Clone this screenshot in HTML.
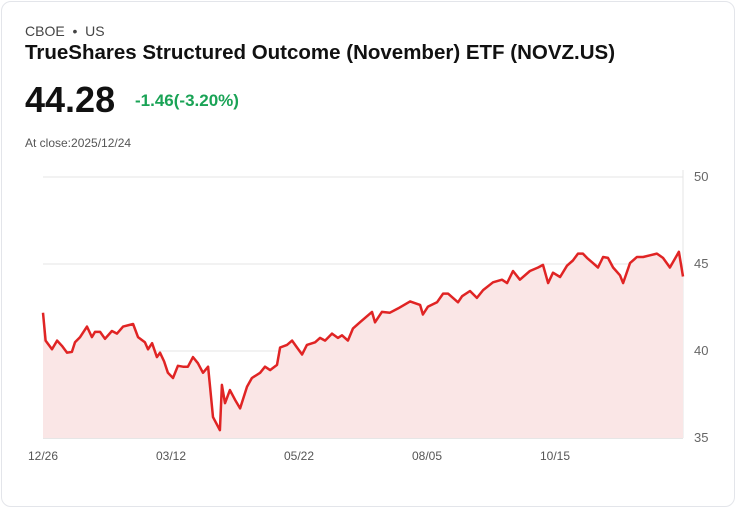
<!DOCTYPE html>
<html><head><meta charset="utf-8"><style>
body{margin:0;background:#fff;font-family:"Liberation Sans",sans-serif;}
.card{position:absolute;left:1px;top:1px;width:732px;height:504px;border:1px solid #e3e5ea;border-radius:10px;background:#fff;}
.ex{position:absolute;left:25px;top:23px;font-size:14px;color:#444;}
.title{position:absolute;left:25px;top:41px;font-size:20.5px;font-weight:bold;color:#111;}
.price{position:absolute;left:25px;top:79px;font-size:36px;font-weight:bold;color:#111;}
.chg{position:absolute;left:135px;top:91px;font-size:17px;font-weight:bold;color:#1aa356;}
.close{position:absolute;left:25px;top:136px;font-size:12px;color:#555;}
svg{position:absolute;left:0;top:0;}
</style></head><body>
<div class="card"></div>
<div class="ex">CBOE &nbsp;•&nbsp; US</div>
<div class="title">TrueShares Structured Outcome (November) ETF (NOVZ.US)</div>
<div class="price">44.28</div>
<div class="chg">-1.46(-3.20%)</div>
<div class="close">At close:2025/12/24</div>
<svg id="c" width="736" height="508"></svg>
<script>
const days=[0,1,3.5,5.5,7.4,9.4,11.3,12.5,14.5,17.2,19.1,20.3,22.3,24.2,26.9,28.9,31.3,35.2,37.1,39.8,41,42.6,44.5,45.7,47.3,48.8,50.8,52.7,54.7,56.6,58.6,60.5,62.5,64.5,66.4,69.1,69.9,71.1,73,75,77,79.7,81.6,84.8,86.7,88.7,91.4,92.6,95.3,97.3,99.2,101.2,103.1,106.3,108.2,110.2,112.9,115.2,116.8,119.1,121.1,123.8,125.8,128.5,129.7,132.4,135.5,138.7,143.4,147.3,148.4,150.4,153.9,156.3,158.2,162.1,163.7,166.8,169.5,171.9,175.8,179.3,181.3,183.6,186.3,190.2,193.4,195.3,197.3,199.2,202,204.7,207,209,210.9,212.5,214.5,216.8,218.8,220.7,222.7,225.4,226.6,229.3,232,234.4,237.1,239.8,242.2,244.9,248.4,250];
const prices=[42.2,40.6,40.1,40.6,40.3,39.9,39.95,40.5,40.8,41.4,40.8,41.1,41.1,40.7,41.15,41.0,41.4,41.55,40.8,40.5,40.1,40.45,39.65,39.9,39.4,38.75,38.45,39.15,39.1,39.1,39.65,39.3,38.75,39.1,36.2,35.45,38.05,37.0,37.75,37.2,36.7,37.95,38.45,38.75,39.1,38.9,39.2,40.2,40.35,40.6,40.2,39.8,40.35,40.5,40.75,40.6,41.0,40.75,40.9,40.6,41.3,41.65,41.9,42.25,41.65,42.25,42.2,42.45,42.85,42.65,42.1,42.55,42.8,43.3,43.3,42.8,43.15,43.45,43.05,43.5,43.95,44.1,43.9,44.6,44.1,44.6,44.8,44.95,43.9,44.5,44.25,44.9,45.2,45.6,45.6,45.35,45.1,44.8,45.4,45.35,44.8,44.35,43.9,45.05,45.4,45.4,45.5,45.6,45.35,44.8,45.7,44.28];
const yTicks=[35,40,45,50];
const xLabels=["12/26","03/12","05/22","08/05","10/15"];
const xLabelDays=[0,50,100,150,200];
const X0=43,X1=683,Y0=438,Y1=177;
const ns="http://www.w3.org/2000/svg",svg=document.getElementById('c');
const xs=d=>X0+(X1-X0)*d/250;
const ys=v=>Y0-(v-35)/(50-35)*(Y0-Y1);
function mk(t,a){const e=document.createElementNS(ns,t);for(const k in a)e.setAttribute(k,a[k]);svg.appendChild(e);return e;}
yTicks.forEach(t=>{
 const l=mk('line',{x1:X0,x2:X1,y1:ys(t),y2:ys(t),stroke:t==35?'#ccc':'#e4e4e4','stroke-width':1});
 
 
 const tx=mk('text',{x:694,y:ys(t)+4,'font-size':13,fill:'#666','font-family':'Liberation Sans, sans-serif'});
 tx.textContent=t;
 
 
});
const ax=mk('line',{x1:X1,x2:X1,y1:170,y2:Y0,stroke:'#e4e4e4'});


xLabels.forEach((s,i)=>{
 const tx=mk('text',{x:xs(xLabelDays[i]),y:460,'font-size':12,fill:'#555','text-anchor':'middle','font-family':'Liberation Sans, sans-serif'});
 tx.textContent=s;
 
 
});
let d=prices.map((v,i)=>(i?'L':'M')+xs(days[i]).toFixed(1)+','+ys(v).toFixed(1)).join('');
const area=mk('path',{d:d+'L'+X1+','+Y0+'L'+X0+','+Y0+'Z',fill:'#fae6e6'});


const line=mk('path',{d:d,fill:'none',stroke:'#e02424','stroke-width':2.5,'stroke-linejoin':'round'});


</script>
</body></html>
